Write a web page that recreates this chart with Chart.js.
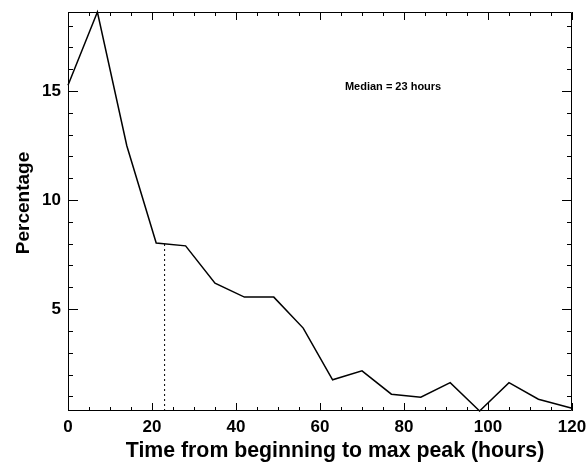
<!DOCTYPE html>
<html>
<head>
<meta charset="utf-8">
<script src="https://cdn.jsdelivr.net/npm/chart.js@4/dist/chart.umd.min.js"></script>
<style>
  html, body { margin: 0; padding: 0; background: #fff; }
  #wrap { width: 588px; height: 467px; }
</style>
</head>
<body>
<div id="wrap"><canvas id="peakChart" width="588" height="467"></canvas></div>
<script>
// hours from beginning of event to max peak, in 7-hour bins
const hours = [0, 7, 14, 21, 28, 35, 42, 49, 56, 63, 70, 77, 84, 91, 98, 105, 112, 120];
const percentage = [15.26, 18.62, 12.49, 8.03, 7.90, 6.19, 5.55, 5.55, 4.13, 1.76, 2.17, 1.10, 0.96, 1.63, 0.33, 1.63, 0.87, 0.46];

// median marker (dotted drop line)
const medianHours = [23, 23];
const medianPct = [0.33, 7.99];
const medianText = 'Median = 23 hours';
const xTitle = 'Time from beginning to max peak (hours)';
const yTitle = 'Percentage';

const xTicks = [0, 20, 40, 60, 80, 100, 120];
const yTicks = [5, 10, 15];
const xRange = [0, 120];
const yRange = [0.33, 18.62];

const FONT = '"Liberation Sans", Arial, Helvetica, sans-serif';

// IDL-style frame with inward tick marks on all four sides
const framePlugin = {
  id: 'frame',
  afterDatasetsDraw(chart) {
    const { ctx, chartArea: a, scales: { x, y } } = chart;
    ctx.save();
    ctx.strokeStyle = '#000';
    ctx.lineWidth = 1;
    ctx.beginPath();
    ctx.rect(a.left + 0.5, a.top + 0.5, a.right - a.left - 1, a.bottom - a.top - 1);
    ctx.stroke();

    ctx.beginPath();
    for (let v = xRange[0]; v <= xRange[1]; v += 5) {
      const px = Math.round(x.getPixelForValue(v)) + 0.5;
      const len = v % 20 === 0 ? 8 : 4;
      ctx.moveTo(px, a.bottom); ctx.lineTo(px, a.bottom - len);
      ctx.moveTo(px, a.top); ctx.lineTo(px, a.top + len);
    }
    for (let v = 1; v <= 18; v++) {
      const py = Math.round(y.getPixelForValue(v)) + 0.5;
      const len = v % 5 === 0 ? 10 : 5;
      ctx.moveTo(a.left, py); ctx.lineTo(a.left + len, py);
      ctx.moveTo(a.right, py); ctx.lineTo(a.right - len, py);
    }
    ctx.stroke();

    ctx.fillStyle = '#000';
    ctx.textAlign = 'center';
    ctx.textBaseline = 'middle';
    // median annotation
    ctx.font = 'bold 11px ' + FONT;
    ctx.fillText(medianText, x.getPixelForValue(77.4), y.getPixelForValue(15.2));
    // axis titles, placed off the plot centre
    ctx.font = 'bold 21.3px ' + FONT;
    ctx.fillText(xTitle, 335, 451);
    ctx.translate(24, 203);
    ctx.rotate(-Math.PI / 2);
    ctx.font = 'bold 19px ' + FONT;
    ctx.fillText(yTitle, 0, 0);
    ctx.restore();
  }
};

new Chart(document.getElementById('peakChart'), {
  type: 'line',
  data: {
    datasets: [{
      data: hours.map((h, i) => ({ x: h, y: percentage[i] })),
      borderColor: '#000',
      borderWidth: 1.5,
      pointRadius: 0,
      tension: 0,
      fill: false
    }, {
      data: medianHours.map((h, i) => ({ x: h, y: medianPct[i] })),
      borderColor: '#000',
      borderWidth: 1,
      borderDash: [2, 3],
      pointRadius: 0,
      fill: false
    }]
  },
  options: {
    responsive: false,
    animation: false,
    clip: false,
    layout: { padding: { top: 12, right: 16, left: 0, bottom: 0 } },
    plugins: { legend: { display: false }, tooltip: { enabled: false } },
    scales: {
      x: {
        type: 'linear',
        min: xRange[0],
        max: xRange[1],
        grid: { display: false, drawTicks: false },
        border: { display: false },
        afterBuildTicks: s => { s.ticks = xTicks.map(v => ({ value: v })); },
        afterFit: s => { s.height = 56; s.paddingLeft = 0; s.paddingRight = 0; },
        ticks: { color: '#000', padding: 6, maxRotation: 0, font: { family: FONT, size: 17, weight: 'bold' } }
      },
      y: {
        type: 'linear',
        min: yRange[0],
        max: yRange[1],
        grid: { display: false, drawTicks: false },
        border: { display: false },
        afterBuildTicks: s => { s.ticks = yTicks.map(v => ({ value: v })); },
        afterFit: s => { s.width = 68; s.paddingTop = 0; s.paddingBottom = 0; },
        ticks: { color: '#000', padding: 7, font: { family: FONT, size: 17, weight: 'bold' } }
      }
    }
  },
  plugins: [framePlugin]
});
</script>
</body>
</html>
